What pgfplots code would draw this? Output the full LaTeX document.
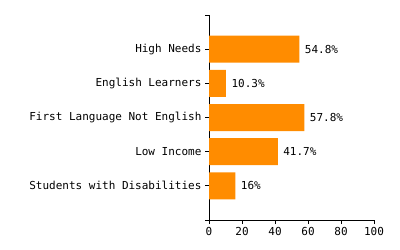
\documentclass[border=0pt]{standalone}
\usepackage{pgfplots}
\pgfplotsset{compat=1.18}
\usepackage{fontspec}
\setmainfont{DejaVu Sans Mono}
\definecolor{bar}{HTML}{FF8C00}
\begin{document}
\begin{tikzpicture}[x=1bp,y=1bp]
\path[use as bounding box] (0,0) rectangle (400,250);
\begin{axis}[
  at={(209bp,30bp)}, anchor=south west,
  scale only axis, width=165bp, height=205bp,
  xmin=0, xmax=100, ymin=-1, ymax=5,
  axis lines*=left,
  axis line style={black, line width=1bp},
  xtick={0,20,40,60,80,100},
  ytick={-1,0,1,2,3,4,5},
  yticklabels={,Students with Disabilities,Low Income,First Language Not English,English Learners,High Needs,},
  tick align=outside,
  major tick length=4bp,
  tick style={black, line width=1bp},
  ticklabel style={font=\fontsize{11bp}{13bp}\selectfont},
  /pgf/number format/assume math mode=true,
  xbar, bar width=27bp,
  bar shift=0pt,
  nodes near coords={\pgfmathprintnumber{\pgfplotspointmeta}\%},
  nodes near coords style={font=\fontsize{11bp}{13bp}\selectfont, anchor=west, xshift=2bp, /pgf/number format/assume math mode=true},
  clip=false,
]
\addplot[fill=bar, draw=none] coordinates {
  (16,0) (41.7,1) (57.8,2) (10.3,3) (54.8,4)
};
\end{axis}
\end{tikzpicture}
\end{document}
